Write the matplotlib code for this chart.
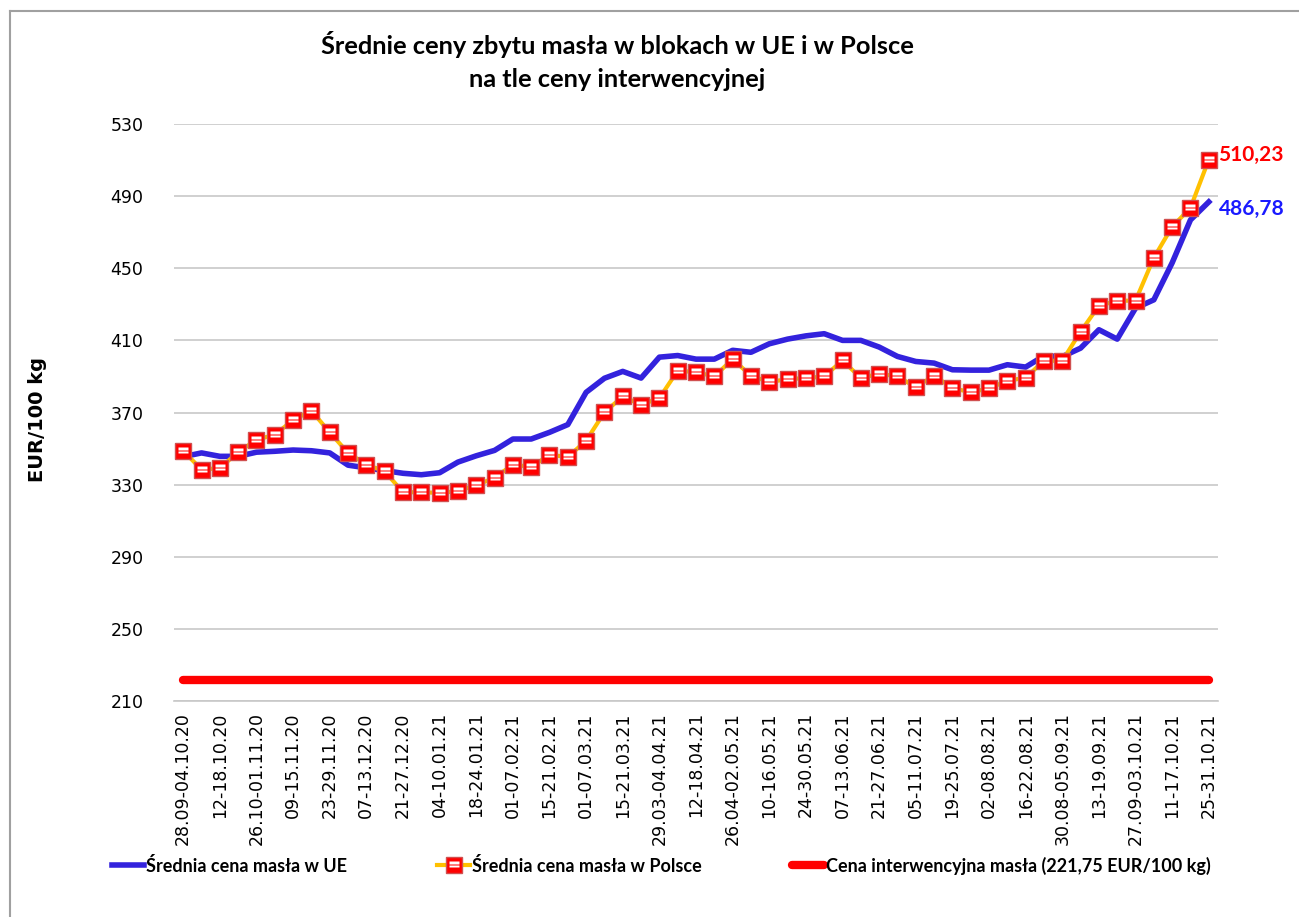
import numpy as np
import matplotlib
matplotlib.use("Agg")
import matplotlib.pyplot as plt
from matplotlib.path import Path
from matplotlib.lines import Line2D

# weekly labels (every second week is labelled on the axis)
tick_labels = [
    "28.09-04.10.20", "12-18.10.20", "26.10-01.11.20", "09-15.11.20", "23-29.11.20",
    "07-13.12.20", "21-27.12.20", "04-10.01.21", "18-24.01.21", "01-07.02.21",
    "15-21.02.21", "01-07.03.21", "15-21.03.21", "29.03-04.04.21", "12-18.04.21",
    "26.04-02.05.21", "10-16.05.21", "24-30.05.21", "07-13.06.21", "21-27.06.21",
    "05-11.07.21", "19-25.07.21", "02-08.08.21", "16-22.08.21", "30.08-05.09.21",
    "13-19.09.21", "27.09-03.10.21", "11-17.10.21", "25-31.10.21",
]

# EUR/100 kg
eu = [345.5, 347.6, 345.7, 345.7, 348.0, 348.5, 349.2, 348.8, 347.6, 340.8,
      339.3, 337.8, 336.3, 335.5, 336.6, 342.5, 346.0, 349.0, 355.3, 355.3,
      359.0, 363.3, 381.2, 389.0, 392.8, 389.1, 400.7, 401.6, 399.6, 399.6,
      404.5, 403.4, 408.1, 410.7, 412.5, 413.7, 410.0, 410.0, 406.3, 401.1,
      398.3, 397.4, 393.7, 393.5, 393.5, 396.5, 395.2, 401.4, 401.0, 405.7,
      415.9, 410.7, 427.9, 432.5, 453.0, 476.8, 486.78]

pl = [348.8, 338.3, 339.2, 348.0, 354.9, 357.7, 365.8, 371.0, 359.0, 347.6,
      341.1, 337.4, 325.8, 325.8, 325.4, 326.4, 329.7, 333.8, 341.1, 339.8,
      346.6, 345.3, 354.4, 370.1, 378.9, 374.3, 378.0, 393.2, 392.4, 390.0,
      399.6, 390.4, 386.9, 388.5, 389.1, 390.0, 398.9, 389.1, 391.5, 390.0,
      384.1, 390.4, 383.6, 381.2, 383.4, 387.6, 389.3, 398.7, 398.7, 414.8,
      429.2, 432.0, 432.0, 455.8, 473.0, 483.5, 510.23]

intervention = 221.75

narrow = ["Lato", "DejaVu Sans"]

x = np.arange(len(eu))
interv = np.full(len(eu), intervention)

fig = plt.figure(figsize=(12.99, 9.17), dpi=100)
ax = fig.add_axes([0.134, 0.2355, 0.8036, 0.6293])

# striped marker (white bands on red square)
stripe_path = Path(
    [(-1, 0.25), (1, 0.25), (1, 0.75), (-1, 0.75), (-1, 0.25),
     (-1, -0.45), (1, -0.45), (1, -0.05), (-1, -0.05), (-1, -0.45),
     (0, 1), (0, -1)],
    [Path.MOVETO, Path.LINETO, Path.LINETO, Path.LINETO, Path.CLOSEPOLY,
     Path.MOVETO, Path.LINETO, Path.LINETO, Path.LINETO, Path.CLOSEPOLY,
     Path.MOVETO, Path.MOVETO],
)

red_line, = ax.plot(x, interv, color="#FF0000", lw=6, solid_capstyle="round", zorder=3)
eu_line, = ax.plot(x, eu, color="#3322DD", lw=4, zorder=4)
pl_line, = ax.plot(x, pl, color="#FFC000", lw=3, marker="s", ms=11,
                   mfc="#FF0000", mec="#D05050", mew=1.0, zorder=5)
pl_stripes, = ax.plot(x, pl, ls="none", marker=stripe_path, ms=7.5,
                      mfc="white", mec="none", zorder=6)

ax.set_xlim(-0.5, len(eu) - 0.5)
ax.set_ylim(210, 530)
ax.set_yticks(np.arange(210, 531, 40))
ax.set_xticks(x[::2])
ax.set_xticklabels(tick_labels, rotation=90, va="top", ha="center")
ax.tick_params(axis="both", length=0, labelsize=12.5, colors="black")
ax.tick_params(axis="y", pad=22)
ax.tick_params(axis="x", pad=8)
ax.grid(axis="y", color="#C8C8C8", lw=1.2)
ax.set_axisbelow(True)
for s in ["top", "right", "left"]:
    ax.spines[s].set_visible(False)
ax.spines["bottom"].set_color("#C8C8C8")
ax.spines["bottom"].set_linewidth(1.2)

ax.annotate("510,23", xy=(x[-1], pl[-1]), xytext=(7, 3), textcoords="offset points",
            color="#FF0000", fontsize=15, fontweight="bold", va="center", ha="left",
            family=narrow)
ax.annotate("486,78", xy=(x[-1], eu[-1]), xytext=(7, -5), textcoords="offset points",
            color="#1A1AFF", fontsize=15, fontweight="bold", va="center", ha="left",
            family=narrow)

fig.text(0.475, 0.951, "Średnie ceny zbytu masła w blokach w UE i w Polsce",
         ha="center", va="center", fontsize=18.3, fontweight="bold", family=narrow)
fig.text(0.475, 0.913, "na tle ceny interwencyjnej",
         ha="center", va="center", fontsize=18.3, fontweight="bold", family=narrow)
fig.text(0.029, 0.543, "EUR/100 kg", rotation=90, ha="center", va="center",
         fontsize=14, fontweight="bold")

# frame
fig.add_artist(Line2D([0.0077, 1.0], [0.988, 0.988], color="#A0A0A0", lw=1.5))
fig.add_artist(Line2D([0.0077, 0.0077], [0.0, 0.988], color="#A0A0A0", lw=1.5))

leg = fig.legend(
    handles=[eu_line, (pl_line, pl_stripes), red_line],
    labels=["Średnia cena masła w UE", "Średnia cena masła w Polsce",
            "Cena interwencyjna masła (221,75 EUR/100 kg)"],
    loc="center", bbox_to_anchor=(0.509, 0.056), ncol=3, frameon=False,
    handlelength=1.8, handletextpad=0.1, columnspacing=5.0,
    prop={"family": narrow, "size": 13, "weight": "bold"},
)

fig.savefig("out.png", dpi=100)
